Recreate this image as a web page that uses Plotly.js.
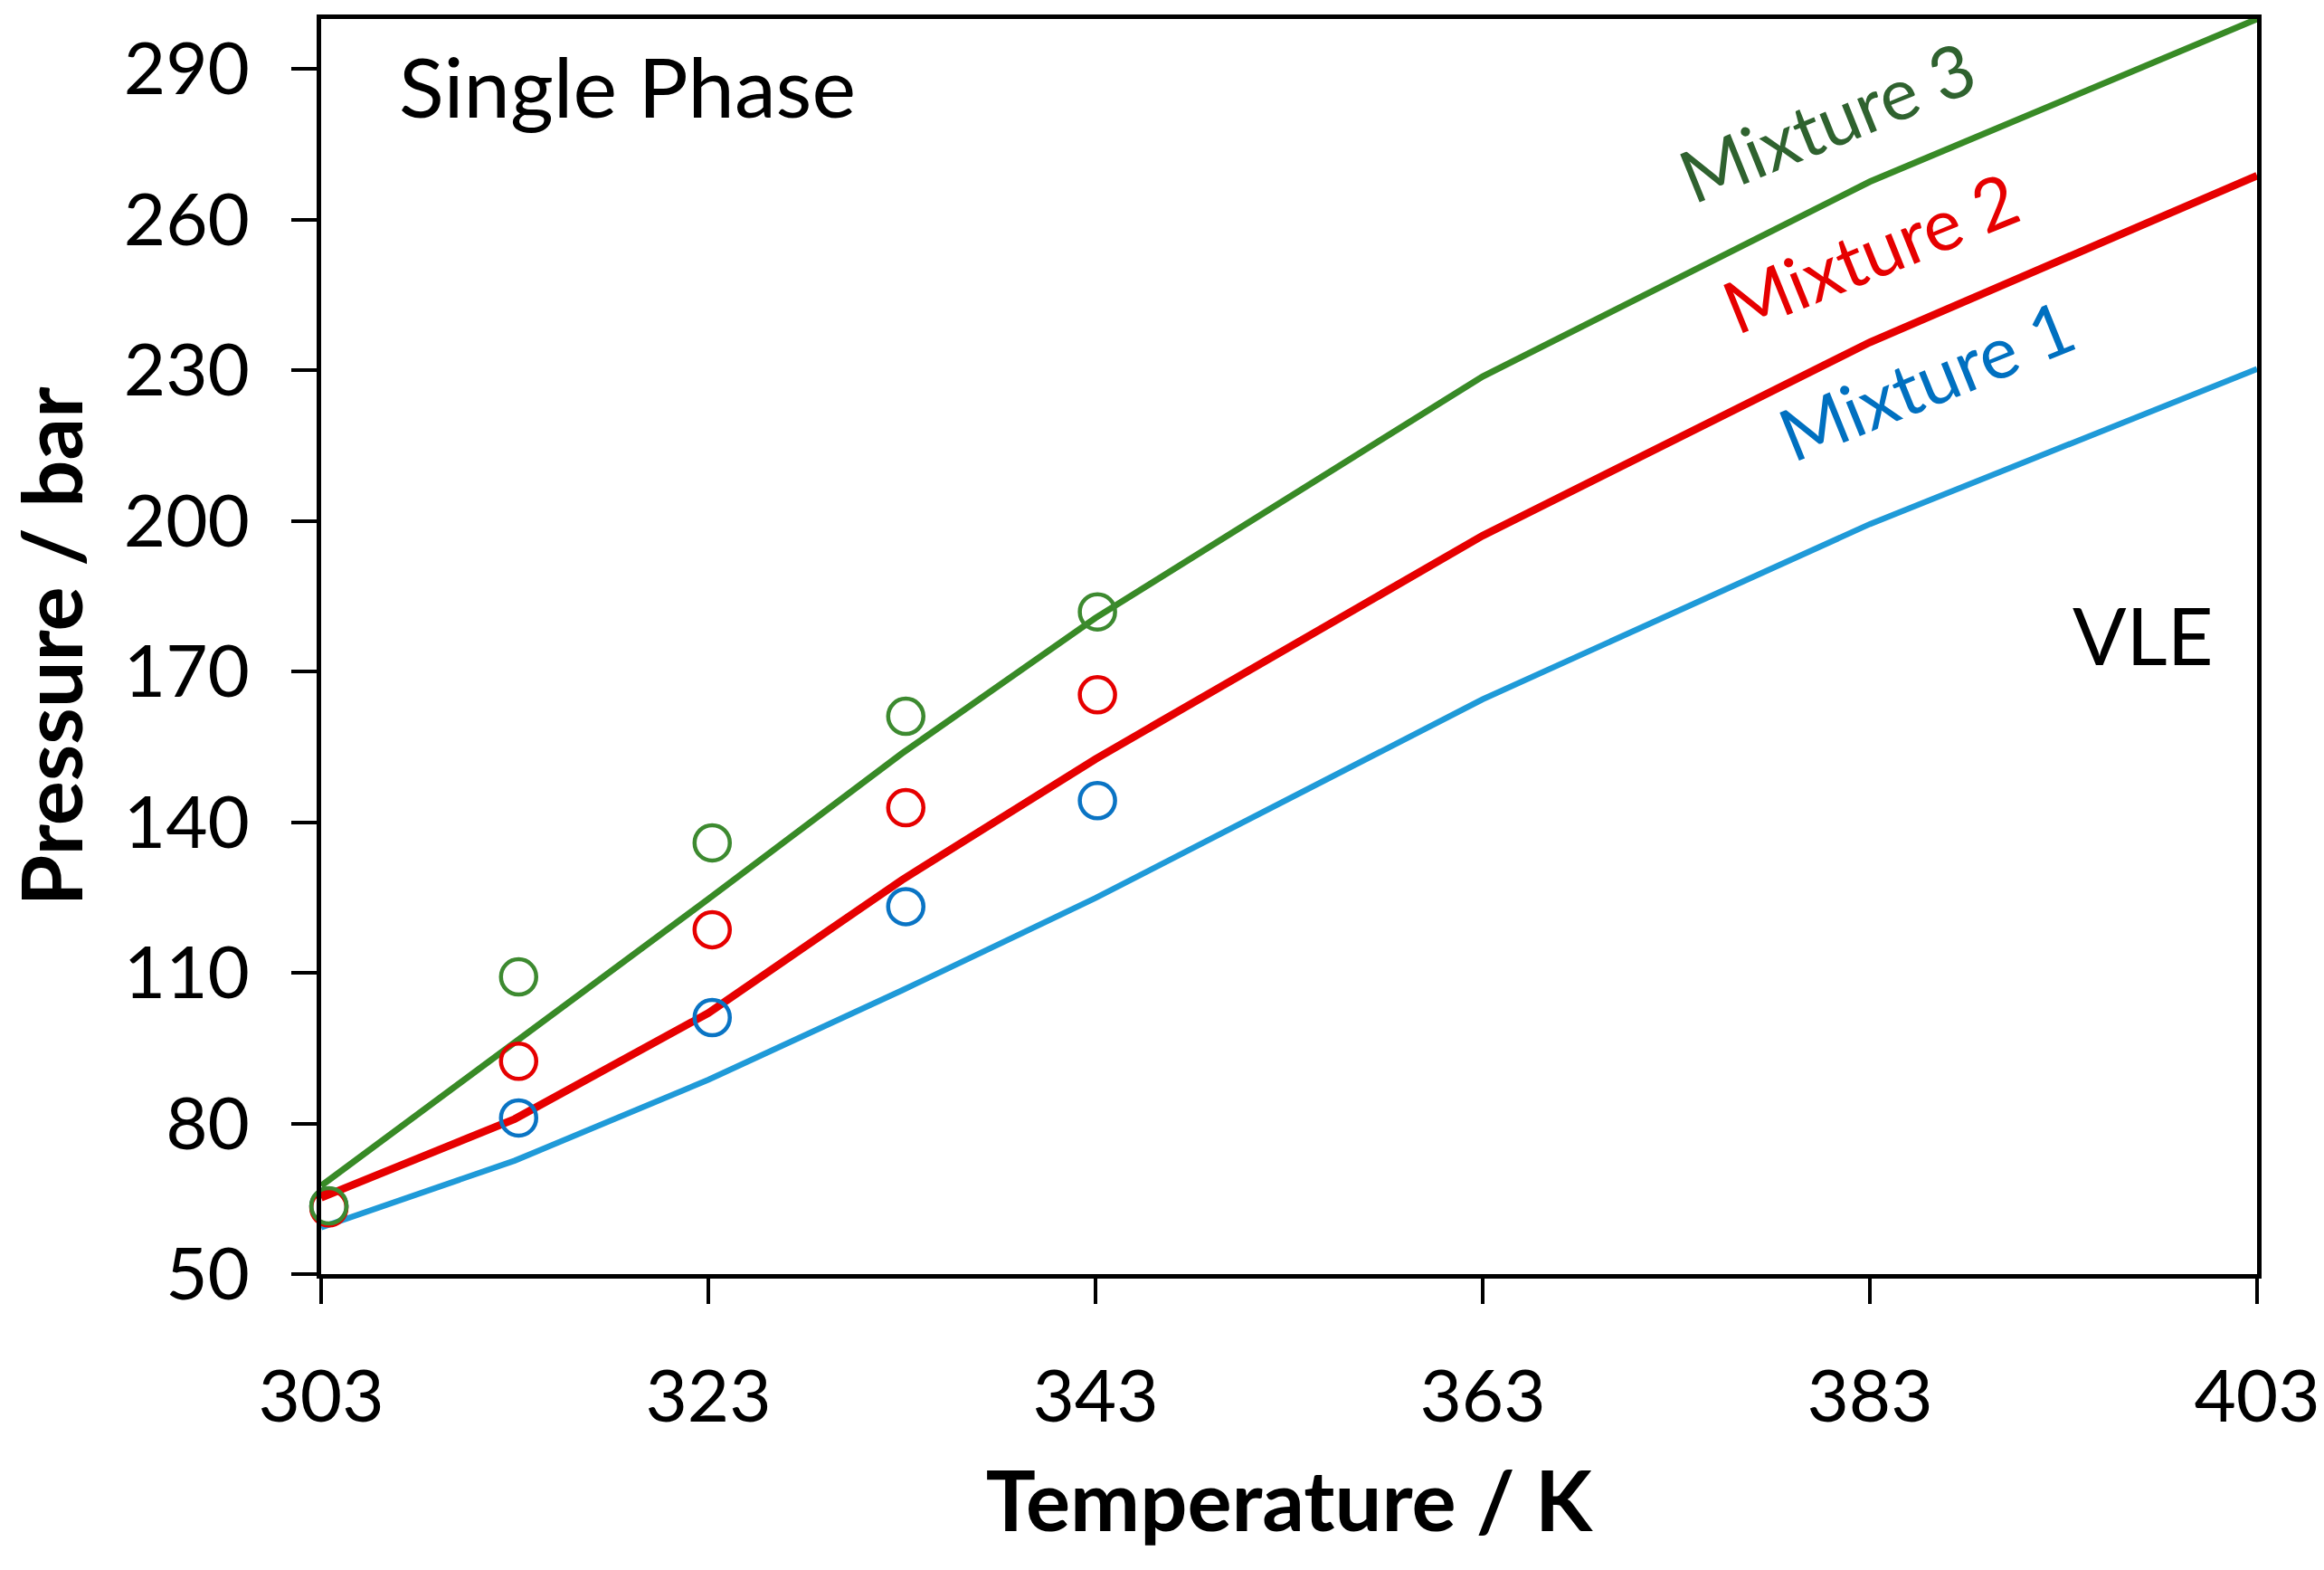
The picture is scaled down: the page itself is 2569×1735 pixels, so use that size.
<!DOCTYPE html>
<html>
<head>
<meta charset="utf-8">
<script src="https://cdn.plot.ly/plotly-3.0.1.min.js"></script>
<style>
  html, body { margin: 0; padding: 0; background: #fff; }
  #chart { width: 2569px; height: 1735px; }
</style>
</head>
<body>
<div id="chart"></div>
<script>
// model curves (temperature / K vs pressure / bar)
const tLine = [303, 313, 323, 333, 343, 363, 383, 403];
const mix1Line = [59.3, 72.6, 88.7, 106.5, 124.9, 164.5, 199.4, 230.3];
const mix2Line = [65.2, 80.9, 102.0, 128.5, 152.6, 197.1, 235.6, 268.8];
const mix3Line = [67.6, 96.2, 124.7, 153.7, 180.7, 228.8, 267.6, 300.0];

// measured points
const tExp = [303.4, 313.2, 323.2, 333.2, 343.1];
const mix1Exp = [63.5, 81.1, 101.1, 123.2, 144.3];
const mix2Exp = [63.2, 92.4, 118.6, 142.9, 165.4];
const mix3Exp = [63.6, 109.2, 135.9, 161.1, 181.9];

const xTicks = [303, 323, 343, 363, 383, 403];
const yTicks = [50, 80, 110, 140, 170, 200, 230, 260, 290];

const FONT = 'Lato, "Open Sans", sans-serif';

(function(){
  const blueLine = '#1f9ad8', blueMark = '#0a74c4', blueText = '#0070c0';
  const red = '#e60000';
  const greenLine = '#388a26', greenMark = '#3d8a30', greenText = '#2f622f';

  function line(y, color, w){
    return { type:'scatter', mode:'lines', x: tLine, y: y, line:{ color: color, width: w }, hoverinfo:'x+y', cliponaxis:false };
  }
  function pts(y, color){
    return { type:'scatter', mode:'markers', x: tExp, y: y, cliponaxis:false,
      marker:{ symbol:'circle-open', size:39, color: color, line:{ color: color, width:4.5 } } };
  }
  const traces = [
    line(mix1Line, blueLine, 6.5),
    line(mix2Line, red, 8.5),
    line(mix3Line, greenLine, 7),
    pts(mix1Exp, blueMark),
    pts(mix2Exp, red),
    pts(mix3Exp, greenMark)
  ];

  function note(text, x, y, color, size, angle){
    return { text: text, x: x, y: y, xref:'x', yref:'y', showarrow:false, textangle: angle || 0,
      xanchor:'center', yanchor:'middle', font:{ family: FONT, size: size, color: color } };
  }

  const layout = {
    width: 2569, height: 1735,
    margin: { l: 355, r: 74, t: 21, b: 327 },
    paper_bgcolor:'#fff', plot_bgcolor:'#fff',
    showlegend: false,
    font: { family: FONT, color:'#000' },
    xaxis: {
      range: [303, 403], tickvals: xTicks, ticktext: xTicks.map(String),
      showgrid:false, zeroline:false, showline:true, linecolor:'#000', linewidth:5, mirror:true,
      ticks:'outside', ticklen:28, tickwidth:4, tickcolor:'#000',
      tickfont:{ family: FONT, size:80, color:'#000' }, ticklabelstandoff: 34,
      title:{ text:'<b>Temperature / K</b>', font:{ family: FONT, size:92, color:'#000' }, standoff: 42 }
    },
    yaxis: {
      range: [50, 300], tickvals: yTicks, ticktext: yTicks.map(String),
      showgrid:false, zeroline:false, showline:true, linecolor:'#000', linewidth:5, mirror:true,
      ticks:'outside', ticklen:28, tickwidth:4, tickcolor:'#000',
      tickfont:{ family: FONT, size:80, color:'#000' }, ticklabelstandoff: 30,
      title:{ text:'<b>Pressure / bar</b>', font:{ family: FONT, size:92, color:'#000' }, standoff: 25 }
    },
    annotations: [
      note('Single Phase', 318.8, 286.8, '#000', 92),
      note('VLE', 397.1, 177.5, '#000', 88),
      note('Mixture 3', 380.8, 279.8, greenText, 80, -22),
      note('Mixture 2', 383.0, 253.6, red, 80, -22),
      note('Mixture 1', 385.9, 228.2, blueText, 80, -22)
    ]
  };

  Plotly.newPlot('chart', traces, layout, { displayModeBar:false, staticPlot:true });
})();
</script>
</body>
</html>
